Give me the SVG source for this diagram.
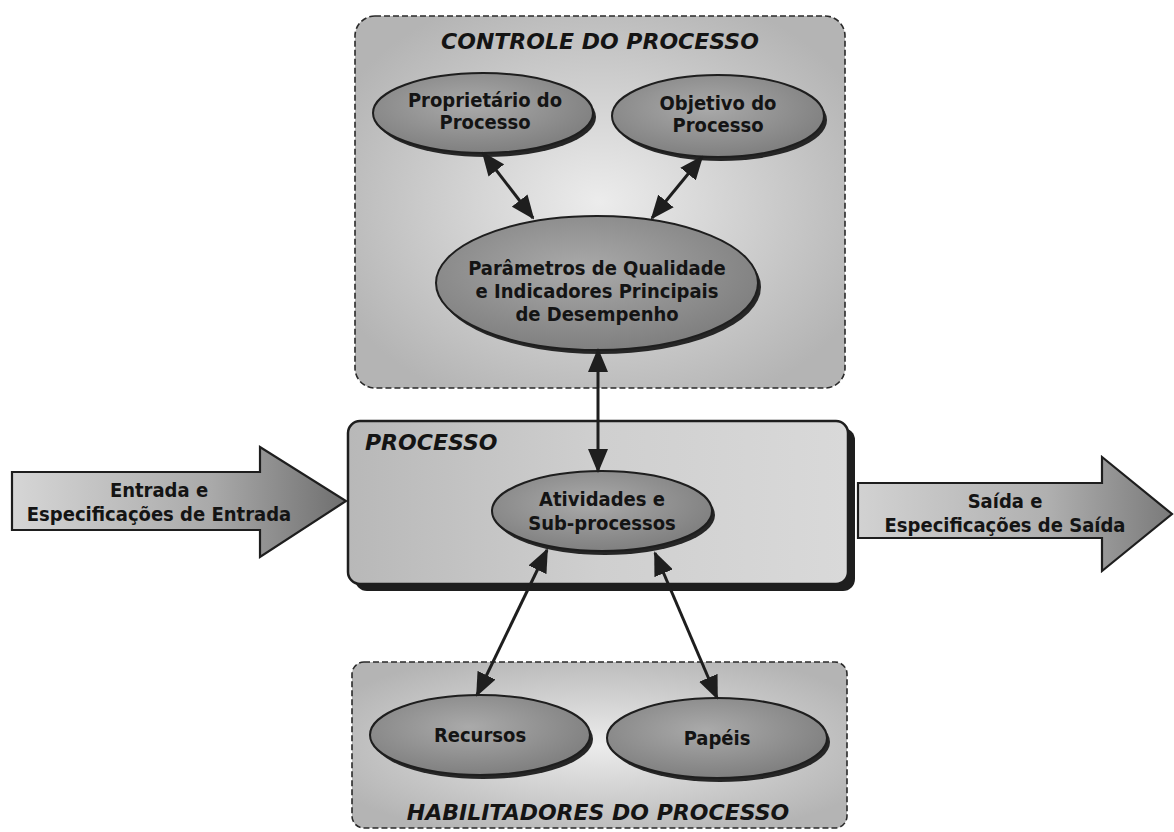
<svg xmlns="http://www.w3.org/2000/svg" width="1174" height="832" viewBox="0 0 1174 832">
  <defs>
    <radialGradient id="boxGrad" cx="50%" cy="50%" r="60%">
      <stop offset="0" stop-color="#ececec"/>
      <stop offset="1" stop-color="#b4b4b4"/>
    </radialGradient>
    <linearGradient id="procGrad" x1="0" y1="0" x2="1" y2="0">
      <stop offset="0" stop-color="#b8b8b8"/>
      <stop offset="0.5" stop-color="#cfcfcf"/>
      <stop offset="1" stop-color="#d9d9d9"/>
    </linearGradient>
    <radialGradient id="ellGrad" cx="45%" cy="40%" r="65%">
      <stop offset="0" stop-color="#aaaaaa"/>
      <stop offset="1" stop-color="#7c7c7c"/>
    </radialGradient>
    <linearGradient id="inGrad" x1="0" y1="0" x2="1" y2="0">
      <stop offset="0" stop-color="#d6d6d6"/>
      <stop offset="0.6" stop-color="#a9a9a9"/>
      <stop offset="1" stop-color="#6f6f6f"/>
    </linearGradient>
    <linearGradient id="outGrad" x1="0" y1="0" x2="1" y2="0">
      <stop offset="0" stop-color="#d2d2d2"/>
      <stop offset="0.6" stop-color="#b0b0b0"/>
      <stop offset="1" stop-color="#7a7a7a"/>
    </linearGradient>
    <marker id="head" viewBox="0 0 24 20" refX="22" refY="10" markerWidth="24" markerHeight="20" markerUnits="userSpaceOnUse" orient="auto-start-reverse">
      <path d="M0,0 L24,10 L0,20 z" fill="#1e1e1e"/>
    </marker>
  </defs>
  <style>
    .dash { fill: url(#boxGrad); stroke: #2a2a2a; stroke-width: 1.6; stroke-dasharray: 6 3; }
    .ell { fill: url(#ellGrad); stroke: #1e1e1e; stroke-width: 2; }
    .shadow { fill: #262626; }
    .lbl { font-family: "DejaVu Sans Condensed", "DejaVu Sans", Verdana, sans-serif; font-stretch: condensed; font-weight: bold; font-size: 20px; fill: #141414; text-anchor: middle; }
    .title { font-family: "DejaVu Sans", Verdana, sans-serif; font-weight: bold; font-style: italic; font-size: 22px; fill: #141414; }
    .conn { stroke: #1e1e1e; stroke-width: 3; fill: none; marker-start: url(#head); marker-end: url(#head); }
    .bigarrow { stroke: #1e1e1e; stroke-width: 2.2; stroke-linejoin: miter; }
  </style>

  <g id="controle">
    <rect class="dash" x="355" y="16" width="490" height="372" rx="20"/>
    <text class="title" x="600" y="49" text-anchor="middle">CONTROLE DO PROCESSO</text>
  </g>

  <g id="proprietario">
    <ellipse class="shadow" cx="486" cy="117" rx="110" ry="40"/>
    <ellipse class="ell" cx="483" cy="113" rx="110" ry="40"/>
    <text class="lbl" x="485" y="107">Proprietário do</text>
    <text class="lbl" x="485" y="129">Processo</text>
  </g>

  <g id="objetivo">
    <ellipse class="shadow" cx="721" cy="120" rx="106" ry="41"/>
    <ellipse class="ell" cx="718" cy="116" rx="106" ry="41"/>
    <text class="lbl" x="718" y="110">Objetivo do</text>
    <text class="lbl" x="718" y="132">Processo</text>
  </g>

  <g id="parametros">
    <ellipse class="shadow" cx="600" cy="287" rx="161" ry="67"/>
    <ellipse class="ell" cx="597" cy="283" rx="161" ry="67"/>
    <text class="lbl" x="597" y="275">Parâmetros de Qualidade</text>
    <text class="lbl" x="597" y="298">e Indicadores Principais</text>
    <text class="lbl" x="597" y="321">de Desempenho</text>
  </g>

  <g id="processo">
    <rect x="355" y="428" width="500" height="163" rx="12" fill="#1e1e1e"/>
    <rect x="348" y="421" width="500" height="163" rx="12" fill="url(#procGrad)" stroke="#1e1e1e" stroke-width="2.5"/>
    <text class="title" x="365" y="450">PROCESSO</text>
  </g>

  <g id="atividades">
    <ellipse class="shadow" cx="605" cy="515" rx="110" ry="40"/>
    <ellipse class="ell" cx="602" cy="511" rx="110" ry="40"/>
    <text class="lbl" x="602" y="506">Atividades e</text>
    <text class="lbl" x="602" y="530">Sub-processos</text>
  </g>

  <g id="entrada">
    <polygon class="bigarrow" fill="url(#inGrad)" points="12,472 260,472 260,447 346,501 260,557 260,530 12,530"/>
    <text class="lbl" x="159" y="497">Entrada e</text>
    <text class="lbl" x="159" y="521">Especificações de Entrada</text>
  </g>

  <g id="saida">
    <polygon class="bigarrow" fill="url(#outGrad)" points="858,483 1102,483 1102,457 1172,514 1102,571 1102,538 858,538"/>
    <text class="lbl" x="1005" y="508">Saída e</text>
    <text class="lbl" x="1005" y="532">Especificações de Saída</text>
  </g>

  <g id="habilitadores">
    <rect class="dash" x="352" y="662" width="495" height="166" rx="12"/>
    <text class="title" x="598" y="820" text-anchor="middle">HABILITADORES DO PROCESSO</text>
  </g>

  <g id="recursos">
    <ellipse class="shadow" cx="483" cy="739" rx="110" ry="40"/>
    <ellipse class="ell" cx="480" cy="735" rx="110" ry="40"/>
    <text class="lbl" x="480" y="742">Recursos</text>
  </g>

  <g id="papeis">
    <ellipse class="shadow" cx="720" cy="742" rx="110" ry="40"/>
    <ellipse class="ell" cx="717" cy="738" rx="110" ry="40"/>
    <text class="lbl" x="717" y="745">Papéis</text>
  </g>

  <g id="connectors">
    <line class="conn" x1="483" y1="153" x2="533" y2="218"/>
    <line class="conn" x1="702" y1="157" x2="652" y2="218"/>
    <line class="conn" x1="598" y1="350" x2="598" y2="471"/>
    <line class="conn" x1="547" y1="550" x2="477" y2="695"/>
    <line class="conn" x1="655" y1="553" x2="717" y2="698"/>
  </g>
</svg>
